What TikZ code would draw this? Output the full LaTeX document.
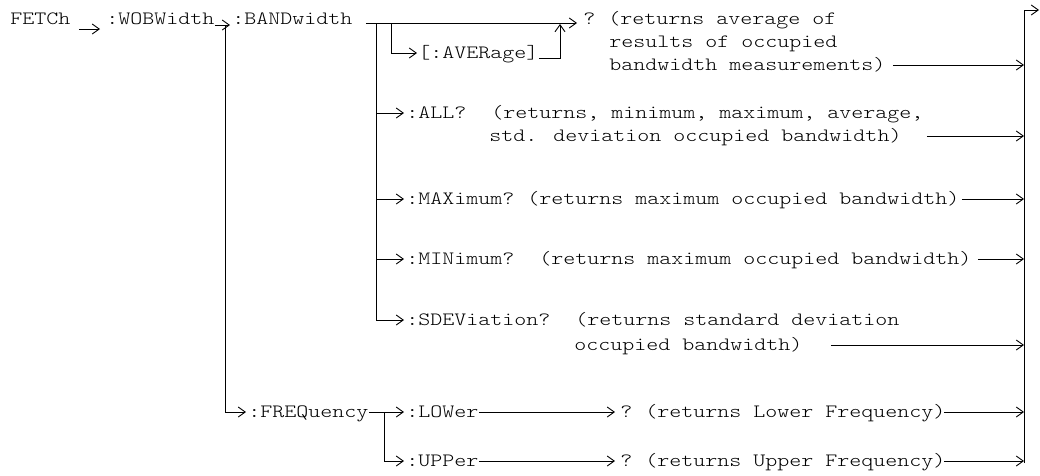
\documentclass[tikz,border=0pt]{standalone}
\usepackage{fontspec}
\newfontfamily\cmdfont{lmmonolt10-regular.otf}[FakeStretch=1.216]
\usepackage{tikz}
\usetikzlibrary{arrows.meta, positioning}

\begin{document}
\begin{tikzpicture}[x=1pt, y=-1pt, line width=0.9pt, >={Straight Barb[length=7pt,width=10pt]},
    cmd/.style={inner sep=0pt, anchor=west, text height=11.5pt, text depth=0pt,
      font=\cmdfont\fontsize{18.8pt}{22pt}\selectfont}]
    \useasboundingbox (0,0) rectangle (1040,475);

    \node [cmd] (fetch) at (10,19) {FETCh};
    \node [cmd] (wob) at (106,19) {:WOBWidth};
    \node [cmd] (band) at (232,19) {:BANDwidth};
    \node [cmd] (avgq) at (583,19) {?};
    \node [cmd, right=12pt of avgq] (avgd1) {(returns average of};
    \node [cmd] (avgd2) at (609,42) {results of occupied};
    \node [cmd] (avgd3) at (609,65) {bandwidth measurements)};
    \node [cmd] (aver) at (418,53) {[:AVERage]};

    \node [cmd] (all) at (406,113) {:ALL?};
    \node [cmd, right=24pt of all] (alld1) {(returns, minimum, maximum, average,};
    \node [cmd] (alld2) at (489,136) {std. deviation occupied bandwidth)};
    \node [cmd] (maxq) at (406,199) {:MAXimum?};
    \node [cmd, right=12pt of maxq] (maxd) {(returns maximum occupied bandwidth)};
    \node [cmd] (minq) at (406,259) {:MINimum?};
    \node [cmd, right=24pt of minq] (mind) {(returns maximum occupied bandwidth)};
    \node [cmd] (sdev) at (406,320) {:SDEViation?};
    \node [cmd, right=24pt of sdev] (sdevd1) {(returns standard deviation};
    \node [cmd] (sdevd2) at (574,345) {occupied bandwidth)};

    \node [cmd] (freq) at (248,412) {:FREQuency};
    \node [cmd] (lower) at (406,412) {:LOWer};
    \node [cmd] (upper) at (406,461) {:UPPer};
    \node [cmd] (lowq) at (620,412) {?};
    \node [cmd, right=12pt of lowq] (lowd) {(returns Lower Frequency)};
    \node [cmd] (uppq) at (620,461) {?};
    \node [cmd, right=12pt of uppq] (uppd) {(returns Upper Frequency)};

    \coordinate (wobsplit) at (225,25);
    \coordinate (bandsplit) at (376,23);
    \coordinate (avsplit) at (391,23);
    \coordinate (avjoin) at (560,24);
    \coordinate (freqsplit) at (384,412);
    \coordinate (railtop) at (1024,10);
    \coordinate (railbot) at (1024,463);

    \draw [->] ([shift={(8,10)}]fetch.east) -- ([shift={(-6,10)}]wob.west);
    \draw [->] ([shift={(0,6)}]wob.east) -- ([shift={(-2,6)}]band.west);
    \draw [->] ([shift={(13,4)}]band.east) -- ([shift={(-6,4)}]avgq.west);
    \draw [->] (avsplit) |- ([xshift=-1pt]aver.west);
    \draw [->] ([yshift=-5pt]aver.east) -| (avjoin);

    \draw [->] (bandsplit) |- ([xshift=-2pt]sdev.west);
    \draw [->] (bandsplit |- all.west) -- ([xshift=-2pt]all.west);
    \draw [->] (bandsplit |- maxq.west) -- ([xshift=-2pt]maxq.west);
    \draw [->] (bandsplit |- minq.west) -- ([xshift=-2pt]minq.west);

    \draw [->] (wobsplit) |- ([xshift=-2pt]freq.west);
    \draw [->] (freq.east) -- ([xshift=-2pt]lower.west);
    \draw [->] (freqsplit) |- ([xshift=-2pt]upper.west);
    \draw [->] (lower.east) -- ([xshift=-5pt]lowq.west);
    \draw [->] (upper.east) -- ([xshift=-5pt]uppq.west);

    \draw [->] (railbot) -- (railtop) -- ++(15,0);
    \draw [->] ([xshift=7pt]avgd3.east) -- (avgd3.east -| railtop);
    \draw [->] ([xshift=25pt]alld2.east) -- (alld2.east -| railtop);
    \draw [->] ([xshift=2pt]maxd.east) -- (maxd.east -| railtop);
    \draw [->] ([xshift=6pt]mind.east) -- (mind.east -| railtop);
    \draw [->] ([xshift=28pt]sdevd2.east) -- (sdevd2.east -| railtop);
    \draw [->] ([xshift=-2pt]lowd.east) -- (lowd.east -| railtop);
    \draw [->] ([xshift=-2pt]uppd.east) -- (uppd.east -| railtop);
\end{tikzpicture}
\end{document}
